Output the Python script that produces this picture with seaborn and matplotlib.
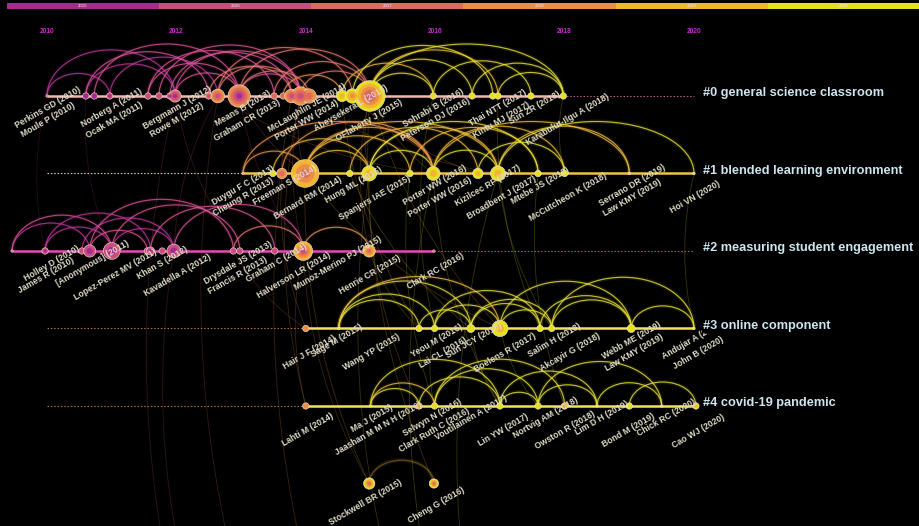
import matplotlib
matplotlib.use("Agg")
import matplotlib.pyplot as plt
from matplotlib.patches import Arc, Rectangle, PathPatch
from matplotlib.path import Path
import numpy as np
import pandas as pd
import seaborn as sns

# ---------------------------------------------------------------- data
# citing-year colour scale (top bar and node rings)
ring_years = [2015, 2016, 2017, 2018, 2019, 2020]
ring_colors = ["#a82a8e", "#c94e7e", "#dc6c5e", "#ec8e46", "#f3b52e", "#e6e120"]
axis_years = [2010, 2012, 2014, 2016, 2018, 2020]

cluster_names = [
    "#0 general science classroom",
    "#1 blended learning environment",
    "#2 measuring student engagement",
    "#3 online component",
    "#4 covid-19 pandemic",
]

# nodes: (timeline position, citations, first citing year, last citing year)
nodes_0 = [
    (2010.00, 0, 2016, 2016), (2010.60, 1, 2015, 2015), (2010.73, 1, 2015, 2015),
    (2010.97, 1, 2015, 2016), (2011.56, 1, 2016, 2016), (2011.73, 1, 2016, 2016),
    (2011.90, 1, 2015, 2016), (2011.98, 6, 2015, 2017), (2012.50, 1, 2016, 2017),
    (2012.64, 8, 2016, 2018), (2012.97, 25, 2015, 2018), (2013.51, 1, 2017, 2017),
    (2013.65, 1, 2017, 2017), (2013.78, 8, 2016, 2018), (2013.92, 16, 2016, 2018),
    (2014.05, 9, 2017, 2018), (2014.56, 5, 2019, 2020), (2014.72, 9, 2018, 2020),
    (2014.99, 50, 2016, 2020), (2015.97, 1, 2020, 2020), (2016.57, 1, 2020, 2020),
    (2016.89, 1, 2020, 2020), (2016.97, 1, 2020, 2020), (2017.48, 1, 2020, 2020),
    (2017.98, 1, 2020, 2020),
]
nodes_1 = [
    (2013.03, 0, 2018, 2018), (2013.49, 1, 2020, 2020), (2013.63, 4, 2017, 2018),
    (2013.99, 40, 2017, 2019), (2014.68, 1, 2020, 2020), (2014.98, 10, 2019, 2020),
    (2015.61, 1, 2020, 2020), (2015.97, 8, 2019, 2020), (2016.66, 4, 2019, 2020),
    (2016.97, 10, 2019, 2020), (2017.59, 1, 2020, 2020), (2018.00, 1, 2020, 2020),
    (2019.00, 0, 2020, 2020), (2020.00, 0, 2020, 2020),
]
nodes_2 = [
    (2009.46, 0, 2016, 2016), (2009.97, 1, 2015, 2016), (2010.54, 1, 2016, 2016),
    (2010.66, 6, 2015, 2016), (2011.00, 13, 2015, 2016), (2011.55, 1, 2016, 2016),
    (2011.60, 2, 2015, 2016), (2011.78, 1, 2016, 2016), (2011.96, 8, 2015, 2016),
    (2012.88, 1, 2016, 2016), (2012.98, 1, 2016, 2016), (2013.52, 1, 2016, 2016),
    (2013.96, 17, 2016, 2019), (2014.98, 6, 2017, 2019), (2015.98, 0, 2016, 2016),
]
nodes_3 = [
    (2014.00, 1, 2018, 2018), (2014.51, 0, 2020, 2020), (2015.75, 1, 2020, 2020),
    (2015.99, 1, 2020, 2020), (2016.55, 2, 2020, 2020), (2017.00, 12, 2019, 2020),
    (2017.62, 1, 2020, 2020), (2017.80, 1, 2020, 2020), (2019.03, 2, 2020, 2020),
    (2020.00, 0, 2020, 2020),
]
nodes_4 = [
    (2014.00, 1, 2018, 2018), (2015.00, 0, 2020, 2020), (2015.75, 1, 2018, 2019),
    (2015.99, 1, 2020, 2020), (2017.00, 1, 2020, 2020), (2017.59, 1, 2020, 2020),
    (2018.00, 1, 2018, 2019), (2018.50, 0, 2020, 2020), (2019.00, 1, 2020, 2020),
    (2019.50, 0, 2020, 2020), (2020.03, 1, 2019, 2020),
]
nodes_5 = [(2014.98, 5, 2017, 2020), (2015.98, 3, 2017, 2020)]

# labels: (text, position, tier below the timeline)
labels_0 = [
    ("Perkins GD (2010)", 2010.02, 0), ("Moule P (2010)", 2010.02, 1),
    ("Norberg A (2011)", 2011.00, 0), ("Ocak MA (2011)", 2011.04, 1),
    ("Bergmann J (2012)", 2012.02, 0), ("Rowe M (2012)", 2012.01, 1),
    ("Means B (2013)", 2013.03, 0), ("Graham CR (2013)", 2013.09, 1),
    ("McLaughlin JE (2014)", 2014.02, 0), ("Porter WW (2014)", 2014.02, 1),
    ("Abeysekera L (2015)", 2014.70, 0), ("OFlaherty J (2015)", 2014.98, 1),
    ("Sohrabi B (2016)", 2015.98, 0), ("Peterson DJ (2016)", 2016.01, 1),
    ("Thai NTT (2017)", 2016.96, 0), ("Kintu MJ (2017)", 2017.02, 1),
    ("Sun ZR (2018)", 2017.53, 0), ("Karabulut-Ilgu A (2018)", 2018.05, 1),
]
labels_1 = [
    ("Duygu F C (2013)", 2013.03, 0), ("Cheung R (2013)", 2013.04, 1),
    ("Freeman S (2014)", 2013.68, 0), ("Bernard RM (2014)", 2014.03, 1),
    ("Hung ML (2015)", 2014.74, 0), ("Spanjers IAE (2015)", 2015.07, 1),
    ("Porter WW (2016)", 2016.00, 0), ("Porter WW (2016)", 2016.07, 1),
    ("Kizilcec RF (2017)", 2016.82, 0), ("Broadbent J (2017)", 2017.03, 1),
    ("Mtebe JS (2018)", 2017.62, 0), ("McCutcheon K (2018)", 2018.05, 1),
    ("Serrano DR (2019)", 2019.04, 0), ("Law KMY (2019)", 2019.04, 1),
    ("Hoi VN (2020)", 2020.02, 1),
]
labels_2 = [
    ("Holley D (2010)", 2010.08, 0), ("James R (2010)", 2009.98, 1),
    ("[Anonymous] (2011)", 2010.70, 0), ("Lopez-Perez MV (2011)", 2011.05, 1),
    ("Khan S (2012)", 2011.79, 0), ("Kavadella A (2012)", 2012.02, 1),
    ("Drysdale JS (2013)", 2012.95, 0), ("Francis R (2013)", 2012.94, 1),
    ("Graham C (2014)", 2013.55, 0), ("Halverson LR (2014)", 2013.82, 1),
    ("Munoz-Merino PJ (2015)", 2014.50, 0), ("Henrie CR (2015)", 2014.99, 1),
    ("Clark RC (2016)", 2016.00, 0.7),
]
labels_3 = [
    ("Hair J F (2014)", 2014.05, 1), ("Sage M (2015)", 2014.48, 0),
    ("Wang YP (2015)", 2015.02, 1), ("Yeou M (2016)", 2016.03, 0),
    ("Lai CL (2016)", 2016.12, 1), ("Sun JCY (2016)", 2016.60, 0),
    ("Boelens R (2017)", 2017.08, 1), ("Salim H (2018)", 2017.85, 0),
    ("Akcayir G (2018)", 2018.08, 1), ("Webb ME (2019)", 2019.04, 0),
    ("Law KMY (2019)", 2019.07, 1), ("Andujar A (2020)", 2019.97, 0),
    ("John B (2020)", 2020.06, 1),
]
labels_4 = [
    ("Lahti M (2014)", 2014.03, 1), ("Ma J (2015)", 2015.02, 0),
    ("Jaashan M M N H (2016)", 2015.13, 0.9), ("Selwyn N (2016)", 2015.95, 0),
    ("Clark Ruth C (2016)", 2015.98, 1), ("Voutilainen A (2017)", 2016.55, 0),
    ("Lin YW (2017)", 2017.05, 1), ("Nortvig AM (2018)", 2017.71, 0),
    ("Owston R (2018)", 2018.00, 1), ("Lim D H (2019)", 2018.58, 0),
    ("Bond M (2019)", 2018.98, 1), ("Chick RC (2020)", 2019.57, 0),
    ("Cao WJ (2020)", 2020.06, 1.1),
]
labels_5 = [("Stockwell BR (2015)", 2014.93, 0.6), ("Cheng G (2016)", 2016.01, 0.8)]

# co-citation links inside a cluster: (from, to, link year)
arcs_0 = [
    (2010.00, 2010.97, 2015), (2010.00, 2011.98, 2015), (2010.60, 2011.98, 2015),
    (2010.73, 2012.97, 2016), (2010.97, 2012.64, 2015), (2011.56, 2012.97, 2016),
    (2011.73, 2013.92, 2016), (2011.98, 2012.97, 2016), (2011.98, 2013.92, 2016),
    (2011.90, 2013.78, 2016), (2012.50, 2013.78, 2017), (2012.64, 2014.72, 2017),
    (2012.97, 2013.92, 2016), (2012.97, 2014.99, 2017), (2013.51, 2014.99, 2017),
    (2013.92, 2014.99, 2017), (2012.97, 2014.05, 2017), (2013.65, 2014.56, 2018),
    (2010.60, 2012.50, 2016), (2011.56, 2013.51, 2016), (2012.64, 2013.92, 2017),
    (2014.56, 2015.97, 2019), (2014.99, 2015.97, 2020), (2014.99, 2016.57, 2020),
    (2014.99, 2016.97, 2019), (2014.72, 2016.89, 2020), (2015.97, 2017.48, 2020),
    (2014.99, 2017.98, 2020), (2016.57, 2017.98, 2020), (2016.97, 2017.98, 2020),
]
arcs_1 = [
    (2013.03, 2013.99, 2018), (2013.49, 2014.98, 2019), (2013.63, 2015.97, 2018),
    (2013.99, 2014.98, 2019), (2013.99, 2015.61, 2019), (2013.99, 2015.97, 2018),
    (2013.99, 2016.97, 2019), (2014.68, 2016.66, 2019), (2014.98, 2015.97, 2020),
    (2014.98, 2016.97, 2019), (2015.97, 2016.97, 2020), (2015.61, 2017.59, 2019),
    (2015.97, 2018.00, 2019), (2016.66, 2018.00, 2020), (2016.97, 2019.00, 2019),
    (2015.97, 2019.00, 2019), (2016.97, 2020.00, 2020), (2013.03, 2015.97, 2018),
    (2014.98, 2017.59, 2020),
]
arcs_2 = [
    (2009.46, 2010.66, 2015), (2009.97, 2011.00, 2015), (2009.46, 2011.00, 2016),
    (2010.54, 2011.96, 2015), (2010.66, 2011.55, 2016), (2011.00, 2011.96, 2015),
    (2011.00, 2012.98, 2016), (2011.60, 2013.52, 2016), (2011.96, 2013.96, 2016),
    (2012.88, 2013.96, 2017), (2010.66, 2012.88, 2016), (2013.96, 2014.98, 2018),
    (2009.97, 2011.60, 2015),
]
arcs_3 = [
    (2014.51, 2015.75, 2020), (2014.51, 2015.99, 2020), (2014.51, 2016.55, 2020),
    (2015.75, 2016.55, 2020), (2015.99, 2017.00, 2020), (2016.55, 2017.62, 2020),
    (2016.55, 2017.80, 2020), (2017.00, 2017.80, 2020), (2017.00, 2019.03, 2020),
    (2017.62, 2019.03, 2020), (2017.80, 2019.03, 2020), (2019.03, 2020.00, 2020),
    (2017.80, 2020.00, 2020), (2014.51, 2017.00, 2019), (2015.99, 2017.62, 2020),
]
arcs_4 = [
    (2015.00, 2015.75, 2020), (2015.00, 2017.00, 2020), (2015.75, 2017.00, 2020),
    (2015.99, 2017.59, 2020), (2017.00, 2017.59, 2020), (2017.00, 2018.50, 2020),
    (2017.59, 2018.50, 2020), (2018.50, 2019.50, 2020), (2017.59, 2019.50, 2020),
    (2015.00, 2015.99, 2019), (2015.99, 2018.00, 2020), (2019.00, 2020.03, 2020),
]
arcs_5 = [(2014.98, 2015.98, 2019)]

# links between clusters: (cluster a, position a, cluster b, position b, link year)
cross_links = [
    (0, 2012.97, 1, 2013.99, 2017), (0, 2013.92, 1, 2013.99, 2018), (0, 2014.99, 1, 2014.98, 2019),
    (0, 2014.99, 1, 2015.97, 2019), (0, 2013.92, 1, 2016.97, 2018), (0, 2012.64, 1, 2015.97, 2018),
    (0, 2014.72, 1, 2016.66, 2019), (0, 2017.98, 1, 2018.00, 2020), (0, 2010.60, 2, 2011.00, 2015),
    (0, 2011.98, 2, 2012.98, 2016), (0, 2012.97, 2, 2013.96, 2016), (0, 2013.92, 2, 2013.96, 2017),
    (0, 2014.99, 2, 2014.98, 2018), (0, 2012.64, 2, 2011.96, 2016), (0, 2010.00, 2, 2009.97, 2015),
    (0, 2014.99, 3, 2017.00, 2019), (0, 2015.97, 3, 2015.99, 2020), (0, 2014.56, 3, 2015.75, 2019),
    (0, 2016.97, 3, 2017.62, 2020), (0, 2013.92, 4, 2014.00, 2018), (1, 2013.99, 3, 2017.00, 2019),
    (1, 2014.98, 4, 2015.75, 2019), (1, 2015.97, 4, 2017.00, 2020), (1, 2020.00, 3, 2020.00, 2020),
    (1, 2016.97, 3, 2017.80, 2020), (1, 2013.63, 3, 2014.00, 2018), (1, 2015.61, 4, 2015.99, 2020),
    (1, 2017.59, 4, 2018.00, 2020), (1, 2014.68, 3, 2016.55, 2020), (2, 2013.96, 4, 2014.00, 2018),
    (2, 2012.88, 3, 2014.00, 2017), (2, 2014.98, 3, 2015.75, 2019), (1, 2013.99, 5, 2014.98, 2019),
    (0, 2014.99, 5, 2015.98, 2019), (2, 2013.96, 5, 2014.98, 2018), (3, 2017.00, 4, 2017.59, 2020),
    (3, 2015.99, 4, 2015.99, 2020), (3, 2016.55, 4, 2017.00, 2020), (0, 2012.64, 7, 2013.20, 2017),
    (0, 2013.78, 7, 2014.30, 2018), (1, 2014.98, 7, 2015.60, 2019), (1, 2016.97, 7, 2016.60, 2020),
    (2, 2011.96, 7, 2012.40, 2016), (0, 2011.98, 7, 2012.10, 2016), (1, 2015.97, 7, 2016.10, 2020),
]

all_nodes = [nodes_0, nodes_1, nodes_2, nodes_3, nodes_4, nodes_5]
all_labels = [labels_0, labels_1, labels_2, labels_3, labels_4, labels_5]
all_arcs = [arcs_0, arcs_1, arcs_2, arcs_3, arcs_4, arcs_5]

# ---------------------------------------------------------------- layout
W_PX, H_PX = 920, 526
PX_YEAR = 64.7          # pixels per year on the timeline
PX_ROW = 77.5           # pixels between cluster rows
X_LEFT = 2010 - 47 / PX_YEAR
Y_TOP = -96 / PX_ROW
PT = 0.72               # points per pixel at 100 dpi

year_color = dict(zip(ring_years, ring_colors))
arc_colors = {2015: "#c23aa0", 2016: "#e0589a", 2017: "#ec7a74", 2018: "#f29a50",
              2019: "#f6c03a", 2020: "#f0ea3a"}
line_colors = ["#f2b6b0", "#f0c24a", "#e24cbc", "#f2e25c", "#f2e25c"]
dash_colors = ["#b0606e", "#d8c8b0", "#b04890", "#a86a40", "#a86a40"]
label_color = "#e0dcc8"


def radius_px(c):
    return 1.2 + 2.0 * np.sqrt(c)


sns.set_theme(style="dark", rc={"axes.facecolor": "black", "figure.facecolor": "black"})
plt.rcParams["font.family"] = ["Liberation Sans", "DejaVu Sans"]

fig = plt.figure(figsize=(W_PX / 100, H_PX / 100), dpi=100)
ax = fig.add_axes([0, 0, 1, 1])
ax.set_facecolor("black")

# top colour bar with citing years
bar_x0 = 7 / W_PX
bar_w = (1 - bar_x0) / len(ring_years)
for i, (yr, col) in enumerate(zip(ring_years, ring_colors)):
    ax.add_patch(Rectangle((bar_x0 + i * bar_w, 1 - 9 / H_PX), bar_w, 6 / H_PX,
                           transform=ax.transAxes, color=col, lw=0, zorder=1))
    ax.text(bar_x0 + (i + 0.5) * bar_w, 1 - 6 / H_PX, str(yr), transform=ax.transAxes,
            ha="center", va="center", fontsize=3.2, color="#f4e8f0", zorder=2)

# timeline year ticks
for yr in axis_years:
    ax.text(yr, Y_TOP + 32 / PX_ROW, str(yr), ha="center", va="center", fontsize=4.8,
            fontweight="bold", color="#c42cc8", zorder=2)

# arcs within each cluster row (soft glow plus a thin core)
for row, arcs in enumerate(all_arcs):
    for a, b, yr in arcs:
        span_px = (b - a) * PX_YEAR
        h_px = min(0.36 * span_px, 52)
        for lw, alpha in ((3.0, 0.09), (0.85, 0.78 if row != 5 else 0.35)):
            ax.add_patch(Arc(((a + b) / 2, row), b - a, 2 * h_px / PX_ROW, theta1=180,
                             theta2=360, color=arc_colors[yr], lw=lw, alpha=alpha, zorder=2))

# curved links between clusters
for ra, xa, rb, xb, yr in cross_links:
    p1 = np.array([(xa - 2010) * PX_YEAR, ra * PX_ROW])
    p2 = np.array([(xb - 2010) * PX_YEAR, rb * PX_ROW])
    d = p2 - p1
    dist = np.hypot(*d)
    normal = np.array([-d[1], d[0]]) / dist
    ctrl = (p1 + p2) / 2 + normal * 0.12 * dist
    pts = np.array([p1, ctrl, p2])
    pts = np.column_stack([pts[:, 0] / PX_YEAR + 2010, pts[:, 1] / PX_ROW])
    ax.add_patch(PathPatch(Path(pts, [Path.MOVETO, Path.CURVE3, Path.CURVE3]), fc="none",
                           ec=year_color[yr], lw=0.6, alpha=0.24, zorder=1.5))

# cluster timelines
for row, nodes in enumerate(all_nodes[:5]):
    pos = [n[0] for n in nodes]
    lo, hi = min(pos), max(pos)
    ax.plot([lo, hi], [row, row], color=line_colors[row], lw=1.8, zorder=3,
            solid_capstyle="butt")
    if lo > 2010:
        ax.plot([2010, lo], [row, row], color=dash_colors[row], lw=0.8,
                ls=(0, (1.4, 1.6)), zorder=3)
    if hi < 2020:
        ax.plot([hi, 2020], [row, row], color=dash_colors[row], lw=0.8,
                ls=(0, (1.4, 1.6)), zorder=3)
    ax.annotate(cluster_names[row], (2020, row), xytext=(8.5 * PT, 2.6 * PT),
                textcoords="offset points", ha="left", va="center", fontsize=9.2,
                fontweight="bold", color="#cde6ee", zorder=7, annotation_clip=False,
                bbox=dict(fc="black", ec="none", pad=0.6))

# nodes as concentric citation rings
ring_rows = []
for row, nodes in enumerate(all_nodes):
    for pos, cites, first, last in nodes:
        r = radius_px(cites)
        n = last - first + 1
        for k in range(n):
            ring_rows.append(dict(x=pos, y=row, layer=k, color=year_color[last - k],
                                  s=(2 * r * (n - k) / n * PT) ** 2))
rings = pd.DataFrame(ring_rows)
for k in sorted(rings["layer"].unique()):
    sub = rings[rings["layer"] == k]
    sns.scatterplot(data=sub, x="x", y="y", hue="color",
                    palette={c: c for c in sub["color"].unique()},
                    size="s", sizes={v: v for v in sub["s"].unique()},
                    legend=False, ax=ax, zorder=4 + 0.1 * k,
                    edgecolor="#f6e9da" if k == 0 else "none",
                    linewidth=0.4 if k == 0 else 0)

# node labels, rotated and centred under each timeline position
for row, labels in enumerate(all_labels):
    for text, pos, tier in labels:
        drop_px = 12 + 12 * tier
        ax.annotate(text, (pos, row), xytext=(0, -drop_px * PT),
                    textcoords="offset points", ha="center", va="center", rotation=30,
                    rotation_mode="anchor", fontsize=6.2, fontweight="bold",
                    color=label_color, zorder=6, annotation_clip=False)

ax.set_xlim(X_LEFT, X_LEFT + W_PX / PX_YEAR)
ax.set_ylim(Y_TOP + H_PX / PX_ROW, Y_TOP)
ax.axis("off")

fig.savefig("out.png", dpi=100, facecolor="black")
